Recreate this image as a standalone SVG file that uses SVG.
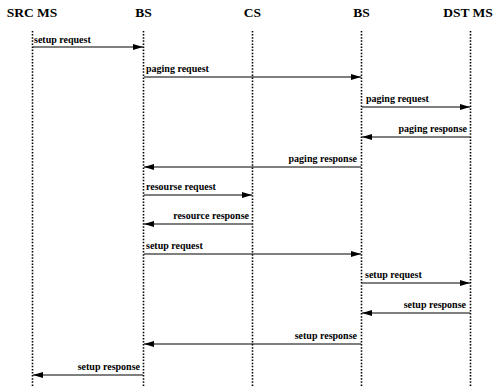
<svg xmlns="http://www.w3.org/2000/svg" width="495" height="387" viewBox="0 0 495 387">
<style>
.hdr{font-family:"Liberation Serif",serif;font-weight:bold;font-size:13.5px;fill:#000;text-anchor:middle}
.lbl{font-family:"Liberation Serif",serif;font-weight:bold;font-size:10px;fill:#000}
.r{text-anchor:end}
.life{stroke:#000;stroke-width:1.6;stroke-dasharray:1.5,1.6;fill:none}
.msg{stroke:#000;stroke-width:1.1;fill:none;marker-end:url(#ah)}
</style>
<defs>
<marker id="ah" viewBox="0 0 10 6" refX="10" refY="3" markerWidth="10" markerHeight="6" markerUnits="userSpaceOnUse" orient="auto">
<path d="M0,0 L10,3 L0,6 z" fill="#000"/>
</marker>
</defs>
<rect width="495" height="387" fill="#fff"/>
<g id="src"><text class="hdr" x="32" y="17">SRC MS</text><line class="life" x1="32.5" y1="31" x2="32.5" y2="386"/></g>
<g id="bs1"><text class="hdr" x="143.5" y="17">BS</text><line class="life" x1="143.5" y1="31" x2="143.5" y2="386"/></g>
<g id="cs"><text class="hdr" x="252.5" y="17">CS</text><line class="life" x1="252.5" y1="31" x2="252.5" y2="386"/></g>
<g id="bs2"><text class="hdr" x="361.5" y="17">BS</text><line class="life" x1="361.5" y1="31" x2="361.5" y2="386"/></g>
<g id="dst"><text class="hdr" x="468" y="17">DST MS</text><line class="life" x1="470.5" y1="31" x2="470.5" y2="386"/></g>
<g id="connectors">
<line class="msg" x1="33" y1="47" x2="143" y2="47"/>
<text class="lbl" x="34" y="43">setup request</text>
<line class="msg" x1="144" y1="77" x2="361" y2="77"/>
<text class="lbl" x="146" y="72">paging request</text>
<line class="msg" x1="362" y1="107" x2="470" y2="107"/>
<text class="lbl" x="366" y="102">paging request</text>
<line class="msg" x1="470" y1="137" x2="362" y2="137"/>
<text class="lbl r" x="467" y="132">paging response</text>
<line class="msg" x1="361" y1="167" x2="144" y2="167"/>
<text class="lbl r" x="357" y="162">paging response</text>
<line class="msg" x1="144" y1="195" x2="252" y2="195"/>
<text class="lbl" x="146" y="190">resourse request</text>
<line class="msg" x1="252" y1="224" x2="144" y2="224"/>
<text class="lbl r" x="249" y="219">resource response</text>
<line class="msg" x1="144" y1="254" x2="361" y2="254"/>
<text class="lbl" x="146" y="249">setup request</text>
<line class="msg" x1="362" y1="283" x2="470" y2="283"/>
<text class="lbl" x="365" y="278">setup request</text>
<line class="msg" x1="470" y1="313" x2="362" y2="313"/>
<text class="lbl r" x="466" y="308">setup response</text>
<line class="msg" x1="361" y1="344" x2="144" y2="344"/>
<text class="lbl r" x="357" y="339">setup response</text>
<line class="msg" x1="143" y1="375" x2="33" y2="375"/>
<text class="lbl r" x="140" y="370">setup response</text>
</g>
</svg>
